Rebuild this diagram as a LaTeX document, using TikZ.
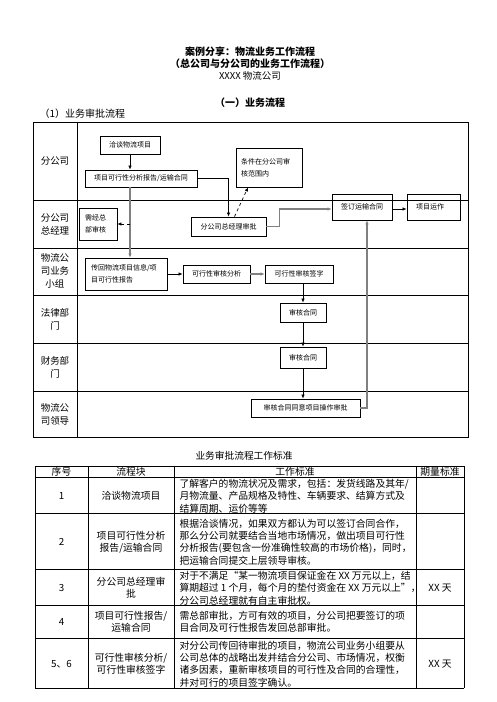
\documentclass[tikz,border=0pt]{standalone}
\usepackage{fontspec}
\setmainfont{Noto Sans CJK SC}
\usetikzlibrary{arrows.meta}

\definecolor{flowgray}{RGB}{128,128,128}

\tikzset{
	box/.style={ draw, line width=0.8pt, font=\fontsize{7}{12}\selectfont, inner sep=0pt },
	lanetext/.style={ font=\fontsize{9.5}{13}\selectfont, align=center },
	flow/.style={ -{Latex[length=4pt, width=3.5pt]}, line width=0.7pt },
	grayflow/.style={ -{Latex[length=4pt, width=3.5pt]}, line width=1.6pt, flowgray },
	dashflow/.style={ flow, dashed },
	celltext/.style={ font=\fontsize{9.8}{12.3}\selectfont, align=center },
	worktext/.style={ celltext, align=left, anchor=west },
}

\begin{document}
\begin{tikzpicture}[ x=1pt, y=-1pt ]

	\def\framel{33}
	\def\framer{468}
	\def\frametop{122}
	\def\framebot{437}
	\def\labelr{77}

	\def\tabl{35}
	\def\tabr{464}
	\def\tabtop{466}
	\def\tabbot{688}

	\useasboundingbox (0, 0) rectangle (496, 702);

	\node[ font=\bfseries\fontsize{10}{12}\selectfont ] (title) at (250, 52) {案例分享：物流业务工作流程};
	\node[ font=\bfseries\fontsize{10}{12}\selectfont ] (subtitle) at (250, 64) {（总公司与分公司的业务工作流程）};
	\node[ font=\fontsize{9.5}{12}\selectfont ] (company) at (250, 76) {XXXX 物流公司};
	\node[ font=\bfseries\fontsize{10}{12}\selectfont ] (part) at (250, 103) {（一）业务流程};
	\node[ font=\fontsize{10}{12}\selectfont, anchor=west ] (flowtitle) at (36, 114) {（1）业务审批流程};

	\draw[ line width=0.8pt ] (\framel, \frametop) rectangle (\framer, \framebot);
	\draw[ line width=0.8pt ] (\labelr, \frametop) -- (\labelr, \framebot);
	\foreach \y in {200, 248, 295, 343, 391} {
		\draw[ line width=0.8pt ] (\framel, \y) -- (\framer, \y);
	}

	\foreach \y/\txt [count=\i] in {161/分公司, 224/{分公司\\总经理}, 271/{物流公\\司业务\\小组}, 319/{法律部\\门}, 367/{财务部\\门}, 414/{物流公\\司领导}} {
		\node[ lanetext ] (lane\i) at (55, \y) {\txt};
	}

	\node[ box, minimum width=60, minimum height=18 ] (talk) at (130, 145) {洽谈物流项目};
	\node[ box, minimum width=112, minimum height=17 ] (report) at (141, 178.5) {项目可行性分析报告/运输合同};
	\node[ box, text width=56, inner xsep=5, align=left, minimum height=39 ] (cond) at (269, 167.5) {条件在分公司审\\核范围内};
	\node[ box, text width=26, inner xsep=6, align=left, minimum height=32 ] (hq) at (98, 224) {需经总\\部审核};
	\node[ box, minimum width=75, minimum height=19 ] (gm) at (228.5, 226.5) {分公司总经理审批};
	\node[ box, minimum width=60, minimum height=26 ] (sign) at (362, 207) {签订运输合同};
	\node[ box, text width=35, inner xsep=9, align=left, minimum height=26 ] (run) at (433.5, 207) {项目运作};
	\node[ box, text width=70, inner xsep=6, align=left, minimum height=32 ] (back) at (126, 274) {传回物流项目信息/项\\目可行性报告};
	\node[ box, minimum width=67, minimum height=18 ] (anal) at (216.5, 274) {可行性审核分析};
	\node[ box, minimum width=68, minimum height=18 ] (signfeas) at (299, 274) {可行性审核签字};
	\node[ box, minimum width=46, minimum height=19 ] (legal) at (303, 312.5) {审核合同};
	\node[ box, minimum width=46, minimum height=21 ] (finance) at (303, 357.5) {审核合同};
	\node[ box, minimum width=109, minimum height=18 ] (lead) at (305.5, 408) {审核合同同意项目操作审批};

	\draw[ flow ] (talk) -- (talk |- report.north);
	\draw[ grayflow ] (talk |- report.south) -- (talk |- back.north);
	\draw[ dashflow ] (talk |- hq.east) -- (hq.east);
	\draw[ flow ] (report.east) -| (gm.north);
	\draw[ dashflow ] ([xshift=6]gm.north) -- ([xshift=-21]cond.south);
	\draw[ grayflow ] (gm.east) -- ++(13, 0) |- ([yshift=-2]sign.west);
	\draw[ flow ] ([yshift=-2]sign.east) -- ([yshift=-2]run.west);
	\draw[ flow ] (back.east) -- (anal.west);
	\draw[ grayflow ] (anal.east) -- (signfeas.west);
	\draw[ flow ] (legal.north |- signfeas.south) -- (legal.north);
	\draw[ flow ] (legal.south) -- (finance.north);
	\draw[ flow ] (finance.south) -- (finance.south |- lead.north);
	\draw[ grayflow ] (lead.east) -| ([xshift=5]sign.south);

	\node[ font=\fontsize{9.7}{12}\selectfont ] (tabletitle) at (244, 456) {业务审批流程工作标准};

	\foreach \y in {\tabtop, 477, 513, 569, 605, 638, \tabbot} {
		\draw[ line width=0.8pt ] (\tabl, \y) -- (\tabr, \y);
	}
	\foreach \x in {\tabl, 88, 174, 416, \tabr} {
		\draw[ line width=0.8pt ] (\x, \tabtop) -- (\x, \tabbot);
	}

	\node[ celltext ] (headno) at (61.5, 471.5) {序号};
	\node[ celltext ] (headblock) at (131, 471.5) {流程块};
	\node[ celltext ] (headwork) at (295, 471.5) {工作标准};
	\node[ celltext ] (headtime) at (440, 471.5) {期量标准};

	\node[ celltext ] (no1) at (61.5, 496) {1};
	\node[ celltext ] (block1) at (131, 496) {洽谈物流项目};
	\node[ worktext ] (work1) at (176, 496) {了解客户的物流状况及需求，包括：发货线路及其年/\\月物流量、产品规格及特性、车辆要求、结算方式及\\结算周期、运价等等};

	\node[ celltext ] (no2) at (61.5, 542) {2};
	\node[ celltext ] (block2) at (131, 542) {项目可行性分析\\报告/运输合同};
	\node[ worktext ] (work2) at (176, 542) {根据洽谈情况，如果双方都认为可以签订合同合作，\\那么分公司就要结合当地市场情况，做出项目可行性\\分析报告(要包含一份准确性较高的市场价格)，同时，\\把运输合同提交上层领导审核。};

	\node[ celltext ] (no3) at (61.5, 588) {3};
	\node[ celltext ] (block3) at (131, 588) {分公司总经理审\\批};
	\node[ worktext ] (work3) at (176, 588) {对于不满足“某一物流项目保证金在 XX 万元以上，结\\算期超过 1 个月，每个月的垫付资金在 XX 万元以上”，\\分公司总经理就有自主审批权。};
	\node[ celltext ] (time3) at (440, 588) {XX 天};

	\node[ celltext ] (no4) at (61.5, 622) {4};
	\node[ celltext ] (block4) at (131, 622) {项目可行性报告/\\运输合同};
	\node[ worktext ] (work4) at (176, 622) {需总部审批，方可有效的项目，分公司把要签订的项\\目合同及可行性报告发回总部审批。};

	\node[ celltext ] (no5) at (61.5, 664) {5、6};
	\node[ celltext ] (block5) at (131, 664) {可行性审核分析/\\可行性审核签字};
	\node[ worktext ] (work5) at (176, 664) {对分公司传回待审批的项目，物流公司业务小组要从\\公司总体的战略出发并结合分公司、市场情况，权衡\\诸多因素，重新审核项目的可行性及合同的合理性，\\并对可行的项目签字确认。};
	\node[ celltext ] (time5) at (440, 664) {XX 天};

\end{tikzpicture}
\end{document}
